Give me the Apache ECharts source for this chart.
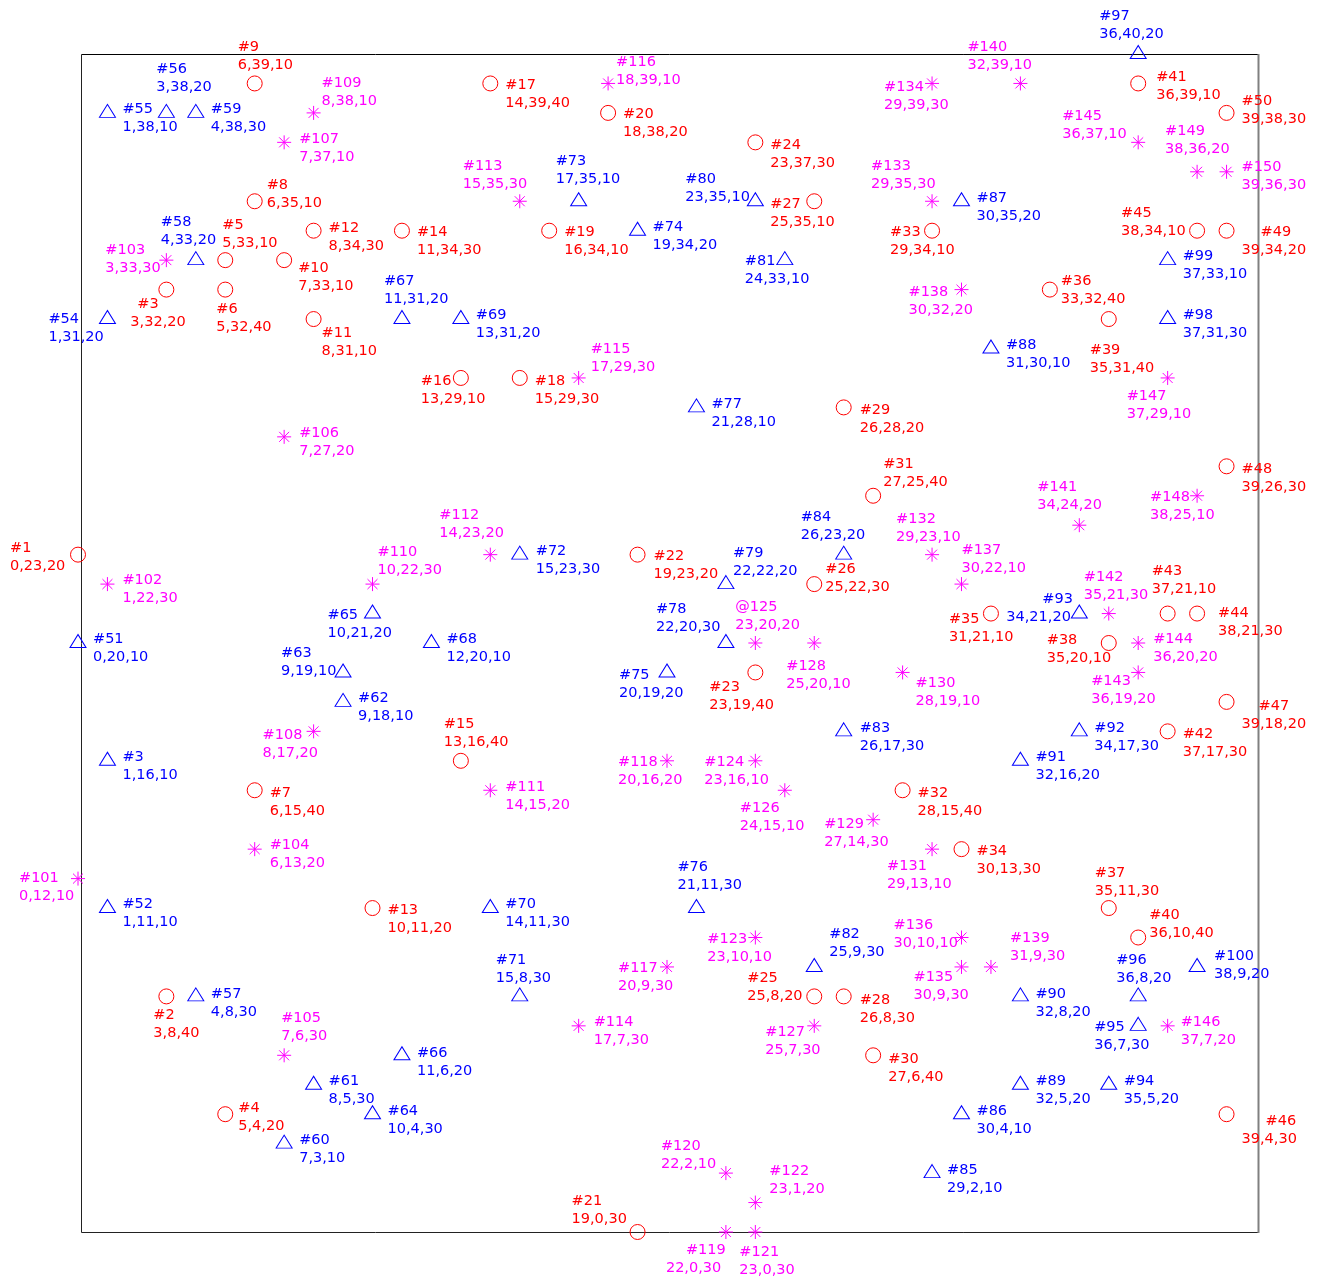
<!DOCTYPE html>
<html>
<head>
<meta charset="utf-8">
<script src="https://cdn.jsdelivr.net/npm/echarts@6/dist/echarts.min.js"></script>
<style>
  html, body { margin: 0; padding: 0; background: #fff; }
  #chart { width: 1325px; height: 1281px; }
</style>
</head>
<body>
<div id="chart"></div>
<script>
// ---------------- DATA ----------------
// [x, y, z] for each point; tag shown as first label line
const circleTags = ['#1','#2','#3','#4','#5','#6','#7','#8','#9','#10','#11','#12','#13','#14','#15','#16','#17','#18','#19','#20','#21','#22','#23','#24','#25','#26','#27','#28','#29','#30','#31','#32','#33','#34','#35','#36','#37','#38','#39','#40','#41','#42','#43','#44','#45','#46','#47','#48','#49','#50'];
const circlePoints = [[0,23,20],[3,8,40],[3,32,20],[5,4,20],[5,33,10],[5,32,40],[6,15,40],[6,35,10],[6,39,10],[7,33,10],[8,31,10],[8,34,30],[10,11,20],[11,34,30],[13,16,40],[13,29,10],[14,39,40],[15,29,30],[16,34,10],[18,38,20],[19,0,30],[19,23,20],[23,19,40],[23,37,30],[25,8,20],[25,22,30],[25,35,10],[26,8,30],[26,28,20],[27,6,40],[27,25,40],[28,15,40],[29,34,10],[30,13,30],[31,21,10],[33,32,40],[35,11,30],[35,20,10],[35,31,40],[36,10,40],[36,39,10],[37,17,30],[37,21,10],[38,21,30],[38,34,10],[39,4,30],[39,18,20],[39,26,30],[39,34,20],[39,38,30]];

const triangleTags = ['#51','#52','#3','#54','#55','#56','#57','#58','#59','#60','#61','#62','#63','#64','#65','#66','#67','#68','#69','#70','#71','#72','#73','#74','#75','#76','#77','#78','#79','#80','#81','#82','#83','#84','#85','#86','#87','#88','#89','#90','#91','#92','#93','#94','#95','#96','#97','#98','#99','#100'];
const trianglePoints = [[0,20,10],[1,11,10],[1,16,10],[1,31,20],[1,38,10],[3,38,20],[4,8,30],[4,33,20],[4,38,30],[7,3,10],[8,5,30],[9,18,10],[9,19,10],[10,4,30],[10,21,20],[11,6,20],[11,31,20],[12,20,10],[13,31,20],[14,11,30],[15,8,30],[15,23,30],[17,35,10],[19,34,20],[20,19,20],[21,11,30],[21,28,10],[22,20,30],[22,22,20],[23,35,10],[24,33,10],[25,9,30],[26,17,30],[26,23,20],[29,2,10],[30,4,10],[30,35,20],[31,30,10],[32,5,20],[32,8,20],[32,16,20],[34,17,30],[34,21,20],[35,5,20],[36,7,30],[36,8,20],[36,40,20],[37,31,30],[37,33,10],[38,9,20]];

const starTags = ['#101','#102','#103','#104','#105','#106','#107','#108','#109','#110','#111','#112','#113','#114','#115','#116','#117','#118','#119','#120','#121','#122','#123','#124','@125','#126','#127','#128','#129','#130','#131','#132','#133','#134','#135','#136','#137','#138','#139','#140','#141','#142','#143','#144','#145','#146','#147','#148','#149','#150'];
const starPoints = [[0,12,10],[1,22,30],[3,33,30],[6,13,20],[7,6,30],[7,27,20],[7,37,10],[8,17,20],[8,38,10],[10,22,30],[14,15,20],[14,23,20],[15,35,30],[17,7,30],[17,29,30],[18,39,10],[20,9,30],[20,16,20],[22,0,30],[22,2,10],[23,0,30],[23,1,20],[23,10,10],[23,16,10],[23,20,20],[24,15,10],[25,7,30],[25,20,10],[27,14,30],[28,19,10],[29,13,10],[29,23,10],[29,35,30],[29,39,30],[30,9,30],[30,10,10],[30,22,10],[30,32,20],[31,9,30],[32,39,10],[34,24,20],[35,21,30],[36,19,20],[36,20,20],[36,37,10],[37,7,20],[37,29,10],[38,25,10],[38,36,20],[39,36,30]];

// ---------------- LABEL LAYOUT (pixel offsets of label block from marker) ----------------
// [dx of block left, dy of first-line centre, indent of first line]
const circleLabelAt = [[-68,-8],[-13,17],[-36,13,7],[13,-7],[-3,-36],[-9,18],[15,1],[12,-18],[-17,-38],[14,7],[8,13],[15,-4],[15,1],[15,0],[-17,-38],[-40,2],[15,0],[15,2],[15,0],[15,0],[-66,-32],[16,0],[-46,13],[15,1],[-67,-20],[11,-16],[-44,1],[16,2],[16,1],[15,2],[10,-33],[15,1],[-42,0],[15,1],[-42,4],[11,-10],[-14,-36],[-62,-4],[-19,30],[11,-24],[18,-8],[15,1],[-16,-44],[21,-2],[-76,-19],[15,6,24],[15,3,17],[15,1],[15,0,19],[15,-13]];
const triangleLabelAt = [[15,-5],[15,-5],[15,-5],[-59,-1],[15,-5],[-10,-45],[15,-4],[-35,-39],[15,-5],[15,-5],[15,-5],[15,-5],[-62,-21],[15,-4],[-45,0],[15,-4],[-18,-39],[15,-5],[15,-5],[15,-5],[-24,-38],[16,-5],[-23,-42],[15,-5],[-48,1],[-19,-42],[15,-5],[-70,-35],[7,-32],[-70,-24],[-40,0],[15,-34],[16,-5],[-43,-39],[15,-4],[15,-4],[15,-5],[15,-5],[15,-5],[15,-4],[15,-5],[15,-5],[-73,-16,36],[15,-5],[-44,0],[-22,-38],[-39,-39],[15,-5],[15,-5],[17,-12]];
const starLabelAt = [[-59,-2],[15,-5],[-61,-11],[15,-5],[-3,-39],[15,-5],[15,-5],[-51,2],[8,-31],[5,-33],[15,-5],[-51,-41],[-57,-37],[15,-5],[12,-30],[8,-23],[-49,0],[-49,0],[-60,17,20],[-65,-28],[-16,19],[14,-33],[-48,0],[-51,0],[-20,-37],[-45,16],[-49,5],[-28,22],[-49,3],[13,9],[-45,16],[-36,-37],[-61,-37],[-48,2],[-48,9],[-68,-14],[0,-35],[-53,1],[19,-30],[-53,-38],[-42,-39],[-25,-38],[-47,7],[15,-5],[-76,-28],[13,-5],[-41,17],[-47,0],[-32,-42],[15,-6]];

// ---------------- STYLE ----------------
const RED = '#ff0000', BLUE = '#0000ff', MAGENTA = '#ff00ff';
const FONT = 'DejaVu Sans';
const FS = 14.5, LH = 18, SHIFT = 1.5;
const STAR = 'path://M8,0L8,16M0,8L16,8M2.3,2.3L13.7,13.7M2.3,13.7L13.7,2.3';

function buildData(points, tags, layout, color, yShift) {
  return points.map(function (p, i) {
    const l = layout[i];
    const indent = l[2] || 0;
    return {
      value: [p[0], p[1], p[2]],
      label: {
        show: true,
        position: 'inside',
        align: 'left',
        verticalAlign: 'top',
        offset: [l[0], l[1] - LH / 2 + yShift + SHIFT],
        formatter: '{a|' + tags[i] + '}\n{b|' + p[0] + ',' + p[1] + ',' + p[2] + '}',
        rich: {
          a: { color: color, fontFamily: FONT, fontSize: FS, lineHeight: LH, padding: [0, 0, 0, indent] },
          b: { color: color, fontFamily: FONT, fontSize: FS, lineHeight: LH }
        }
      }
    };
  });
}

function series(name, points, tags, layout, color, symbol, size, offset, yShift) {
  return {
    name: name,
    type: 'scatter',
    clip: false,
    symbol: symbol,
    symbolSize: size,
    symbolOffset: offset,
    silent: true,
    itemStyle: { color: 'rgba(0,0,0,0)', borderColor: color, borderWidth: 1, opacity: 1 },
    data: buildData(points, tags, layout, color, yShift)
  };
}

const chart = echarts.init(document.getElementById('chart'), null, { renderer: 'canvas' });
chart.setOption({
  animation: false,
  backgroundColor: '#ffffff',
  grid: { left: 78, top: 54, width: 1178, height: 1178 },
  xAxis: { type: 'value', min: 0, max: 40, show: false },
  yAxis: { type: 'value', min: 0, max: 40, show: false },
  graphic: [
    { type: 'line', shape: { x1: 81.5, y1: 54.5, x2: 1258, y2: 54.5 }, style: { stroke: '#000', lineWidth: 1 }, z: 0 },
    { type: 'line', shape: { x1: 81.5, y1: 54.5, x2: 81.5, y2: 1232.5 }, style: { stroke: '#222', lineWidth: 1 }, z: 0 },
    { type: 'line', shape: { x1: 81.5, y1: 1232.5, x2: 1258, y2: 1232.5 }, style: { stroke: '#222', lineWidth: 1 }, z: 0 },
    { type: 'line', shape: { x1: 1258.5, y1: 54, x2: 1258.5, y2: 1233 }, style: { stroke: '#808080', lineWidth: 2 }, z: 0 }
  ],
  series: [
    series('circles', circlePoints, circleTags, circleLabelAt, RED, 'circle', 15, [0, 0], 0),
    series('triangles', trianglePoints, triangleTags, triangleLabelAt, BLUE, 'triangle', [16, 13], [0, -2], 2),
    series('stars', starPoints, starTags, starLabelAt, MAGENTA, STAR, 14, [0, 0], 0)
  ]
});
</script>
</body>
</html>
